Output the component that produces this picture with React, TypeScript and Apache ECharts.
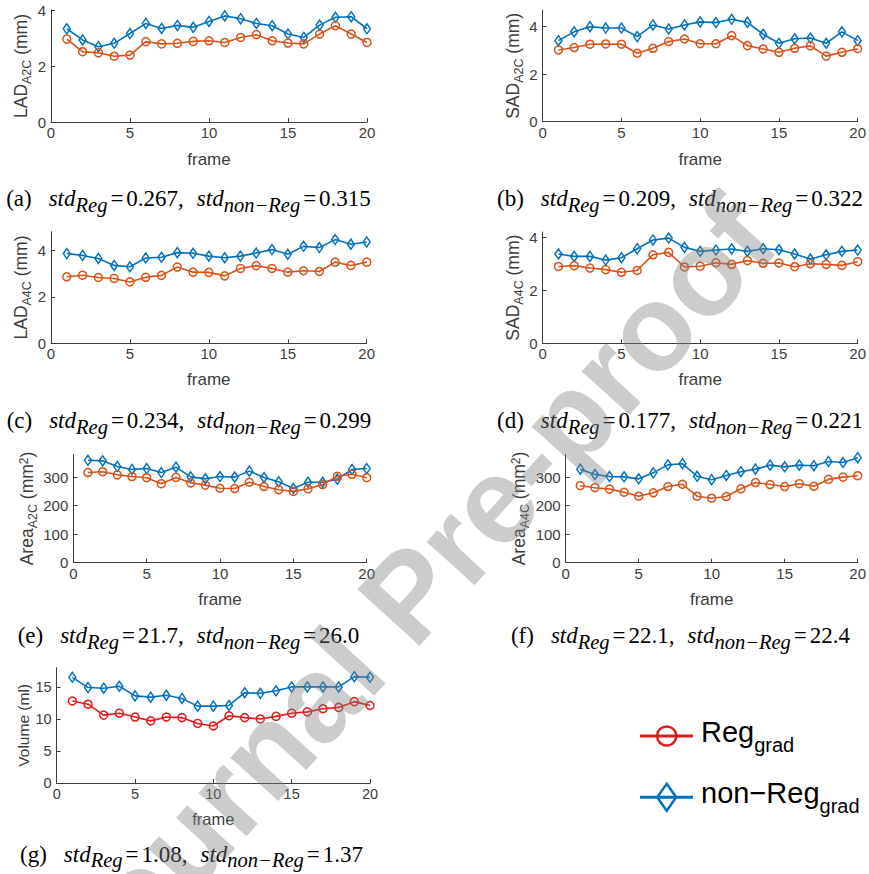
import React, { useEffect, useRef } from 'react';
import * as echarts from 'echarts';

// ---------------- data ----------------
const frames = [1, 2, 3, 4, 5, 6, 7, 8, 9, 10, 11, 12, 13, 14, 15, 16, 17, 18, 19, 20];

const ladA2CReg = [2.96, 2.51, 2.47, 2.35, 2.39, 2.87, 2.79, 2.81, 2.88, 2.9, 2.84, 3.02, 3.12, 2.9, 2.82, 2.79, 3.14, 3.44, 3.14, 2.84];
const ladA2CNon = [3.33, 2.93, 2.69, 2.81, 3.16, 3.52, 3.34, 3.45, 3.38, 3.59, 3.79, 3.69, 3.52, 3.44, 3.14, 3.02, 3.46, 3.74, 3.76, 3.33];

const sadA2CReg = [3.02, 3.12, 3.26, 3.27, 3.26, 2.88, 3.09, 3.37, 3.48, 3.28, 3.28, 3.62, 3.2, 3.06, 2.92, 3.09, 3.19, 2.76, 2.92, 3.07];
const sadA2CNon = [3.41, 3.78, 4.0, 3.94, 3.94, 3.58, 4.07, 3.9, 4.07, 4.2, 4.17, 4.31, 4.18, 3.68, 3.3, 3.49, 3.52, 3.3, 3.78, 3.41];

const ladA4CReg = [2.86, 2.93, 2.83, 2.79, 2.64, 2.84, 2.92, 3.28, 3.06, 3.05, 2.9, 3.22, 3.34, 3.22, 3.06, 3.12, 3.09, 3.49, 3.35, 3.49];
const ladA4CNon = [3.86, 3.78, 3.65, 3.35, 3.29, 3.67, 3.7, 3.9, 3.87, 3.75, 3.68, 3.75, 3.88, 4.03, 3.83, 4.17, 4.12, 4.46, 4.26, 4.36];

const sadA4CReg = [2.9, 2.93, 2.84, 2.78, 2.68, 2.75, 3.34, 3.43, 2.88, 2.91, 3.04, 2.98, 3.12, 3.02, 3.03, 2.89, 3.0, 2.98, 2.94, 3.08];
const sadA4CNon = [3.37, 3.28, 3.28, 3.14, 3.23, 3.57, 3.9, 3.97, 3.62, 3.47, 3.52, 3.56, 3.47, 3.57, 3.53, 3.37, 3.18, 3.34, 3.47, 3.52];

const areaA2CReg = [316, 319, 308, 302, 298, 277, 299, 280, 272, 261, 260, 282, 267, 256, 250, 259, 274, 303, 310, 298];
const areaA2CNon = [359, 357, 337, 327, 330, 316, 335, 301, 294, 302, 300, 321, 299, 284, 260, 282, 282, 293, 327, 330];

const areaA4CReg = [270, 263, 258, 247, 233, 245, 267, 275, 233, 226, 232, 259, 281, 274, 267, 277, 268, 292, 300, 305];
const areaA4CNon = [328, 309, 302, 301, 294, 315, 343, 347, 303, 291, 306, 319, 328, 342, 336, 342, 340, 355, 351, 368];

const volumeReg = [12.8, 12.3, 10.6, 10.9, 10.3, 9.7, 10.3, 10.2, 9.3, 8.9, 10.5, 10.2, 10.0, 10.4, 10.9, 11.1, 11.6, 11.8, 12.7, 12.1];
const volumeNon = [16.5, 14.9, 14.8, 15.1, 13.6, 13.4, 13.7, 13.2, 12.0, 12.0, 12.1, 14.1, 14.0, 14.4, 15.0, 15.0, 15.0, 15.0, 16.6, 16.5];

const panelLetters = ['a', 'b', 'c', 'd', 'e', 'f', 'g'];
const stdReg = ['0.267', '0.209', '0.234', '0.177', '21.7', '22.1', '1.08'];
const stdNonReg = ['0.315', '0.322', '0.299', '0.221', '26.0', '22.4', '1.37'];

const yNameRich = [
  '{m|LAD}{s|A2C}{m| (mm)}',
  '{m|SAD}{s|A2C}{m| (mm)}',
  '{m|LAD}{s|A4C}{m| (mm)}',
  '{m|SAD}{s|A4C}{m| (mm)}',
  '{m|Area}{s|A2C}{m| (mm}{p|2}{m|)}',
  '{m|Area}{s|A4C}{m| (mm}{p|2}{m|)}',
  '{g|Volume (ml)}',
];
const xName = 'frame';
const legendNames = ['Reg', 'non\u2212Reg'];
const legendSub = 'grad';
const watermark = 'Journal Pre-proof';

const regSeries = [ladA2CReg, sadA2CReg, ladA4CReg, sadA4CReg, areaA2CReg, areaA4CReg, volumeReg];
const nonSeries = [ladA2CNon, sadA2CNon, ladA4CNon, sadA4CNon, areaA2CNon, areaA4CNon, volumeNon];

// ---------------- layout / style ----------------
const SANS = '"Liberation Sans", Arial, Helvetica, sans-serif';
const SERIF = '"Liberation Serif", "Times New Roman", serif';
const AXIS = '#3c3c3c';
const ORANGE = '#D95319';
const BLUE = '#0072BD';
const RED = '#E31A1C';

const panels = [
  { left: 51, top: 10, width: 316, height: 112, yMax: 4, step: 2, nameGap: 6, xGap: 29, tick: 15, xName: 17 },
  { left: 542.7, top: 10, width: 315, height: 111.7, yMax: 4.7, step: 2, nameGap: 8, xGap: 29, tick: 15, xName: 17 },
  { left: 51, top: 231.7, width: 315.7, height: 111.6, yMax: 4.8, step: 2, nameGap: 6, xGap: 28, tick: 15, xName: 17 },
  { left: 542.7, top: 232, width: 315, height: 111.3, yMax: 4.2, step: 2, nameGap: 8, xGap: 28, tick: 15, xName: 17 },
  { left: 73.3, top: 454.3, width: 293.4, height: 108.4, yMax: 380, step: 100, nameGap: 25, xGap: 28, tick: 15, xName: 17 },
  { left: 565.7, top: 454.3, width: 292, height: 108.4, yMax: 380, step: 100, nameGap: 24.5, xGap: 28, tick: 15, xName: 17 },
  { left: 56.7, top: 667.7, width: 313.3, height: 115.3, yMax: 18, step: 5, nameGap: 22, xGap: 27, tick: 14.5, xName: 16.5 },
];

const captionPos = [
  { x: 188.5, y: 187.2 },
  { x: 680, y: 187.2 },
  { x: 189, y: 409 },
  { x: 680, y: 409 },
  { x: 188.5, y: 624 },
  { x: 680.5, y: 624 },
  { x: 191.5, y: 842.5 },
];

function buildOption() {
  const grid: any[] = [];
  const xAxis: any[] = [];
  const yAxis: any[] = [];
  const series: any[] = [];

  panels.forEach((p, i) => {
    grid.push({ left: p.left, top: p.top, width: p.width, height: p.height, containLabel: false });
    xAxis.push({
      type: 'value',
      gridIndex: i,
      min: 0,
      max: 20,
      interval: 5,
      name: xName,
      nameLocation: 'middle',
      nameGap: p.xGap,
      nameTextStyle: { fontFamily: SANS, fontSize: p.xName, color: AXIS },
      axisLine: { show: true, onZero: false, lineStyle: { color: AXIS, width: 1 } },
      axisTick: { show: true, inside: true, length: 4, lineStyle: { color: AXIS, width: 1 } },
      axisLabel: { fontFamily: SANS, fontSize: p.tick, color: AXIS, margin: 3 },
      splitLine: { show: false },
    });
    const step = p.step;
    const ticks: number[] = [];
    for (let k = 0; k * step <= p.yMax + 1e-9; k++) ticks.push(k * step);
    yAxis.push({
      type: 'value',
      gridIndex: i,
      min: 0,
      max: p.yMax,
      interval: step,
      name: yNameRich[i],
      nameLocation: 'middle',
      nameRotate: 90,
      nameGap: p.nameGap,
      nameTextStyle: {
        color: AXIS,
        fontFamily: SANS,
        rich: {
          m: { fontFamily: SANS, fontSize: 17.5, color: AXIS, lineHeight: 20, verticalAlign: 'top' },
          s: { fontFamily: SANS, fontSize: 12.5, color: AXIS, lineHeight: 21.5, verticalAlign: 'bottom' },
          p: { fontFamily: SANS, fontSize: 12, color: AXIS, lineHeight: 10, verticalAlign: 'top' },
          g: { fontFamily: SANS, fontSize: 15.5, color: AXIS, lineHeight: 17 },
        },
      },
      axisLine: { show: true, onZero: false, lineStyle: { color: AXIS, width: 1 } },
      axisTick: { show: true, inside: true, length: 4, customValues: ticks, lineStyle: { color: AXIS, width: 1 } },
      axisLabel: {
        fontFamily: SANS,
        fontSize: p.tick,
        color: AXIS,
        margin: 5,
        formatter: (v: number) => (Math.abs(v / step - Math.round(v / step)) < 1e-6 ? String(Math.round(v)) : ''),
      },
      splitLine: { show: false },
    });

    const regColor = i === 6 ? RED : ORANGE;
    series.push({
      type: 'line',
      name: i === 6 ? legendNames[0] : legendNames[0] + ' ' + panelLetters[i],
      xAxisIndex: i,
      yAxisIndex: i,
      data: frames.map((f, k) => [f, regSeries[i][k]]),
      symbol: 'circle',
      symbolSize: 8,
      showSymbol: true,
      lineStyle: { color: regColor, width: 1.6 },
      itemStyle: { color: 'rgba(0,0,0,0)', borderColor: regColor, borderWidth: 1.5 },
      z: 3,
    });
    series.push({
      type: 'line',
      name: i === 6 ? legendNames[1] : legendNames[1] + ' ' + panelLetters[i],
      xAxisIndex: i,
      yAxisIndex: i,
      data: frames.map((f, k) => [f, nonSeries[i][k]]),
      symbol: 'diamond',
      symbolSize: [7, 10],
      showSymbol: true,
      lineStyle: { color: BLUE, width: 1.6 },
      itemStyle: { color: 'rgba(0,0,0,0)', borderColor: BLUE, borderWidth: 1.5 },
      z: 2,
    });
  });

  const capRich = {
    r: { fontFamily: SERIF, fontSize: 23, color: '#111', lineHeight: 24, verticalAlign: 'top' },
    i: { fontFamily: SERIF, fontSize: 23, fontStyle: 'italic', color: '#111', lineHeight: 24, verticalAlign: 'top' },
    e: { fontFamily: SERIF, fontSize: 23, color: '#111', lineHeight: 24, verticalAlign: 'top', padding: [0, 3, 0, 3] },
    s: { fontFamily: SERIF, fontSize: 20.5, fontStyle: 'italic', color: '#111', lineHeight: 27.6, verticalAlign: 'bottom' },
    g1: { fontFamily: SERIF, fontSize: 23, lineHeight: 24, verticalAlign: 'top', width: 17 },
    g2: { fontFamily: SERIF, fontSize: 23, lineHeight: 24, verticalAlign: 'top', width: 13 },
  };

  const graphic: any[] = [];
  panelLetters.forEach((l, i) => {
    graphic.push({
      type: 'text',
      x: captionPos[i].x,
      y: captionPos[i].y,
      z: 10,
      style: {
        text: `{r|(${l})}{g1| }{i|std}{s|Reg}{e|=}{r|${stdReg[i]},}{g2| }{i|std}{s|non\u2212Reg}{e|=}{r|${stdNonReg[i]}}`,
        rich: capRich,
        textAlign: 'center',
        textVerticalAlign: 'top',
      },
    });
  });

  // legend (drawn as graphic)
  const legRich = {
    m: { fontFamily: SANS, fontSize: 29, color: '#222', lineHeight: 30, verticalAlign: 'top' },
    s: { fontFamily: SANS, fontSize: 20, color: '#222', lineHeight: 37.7, verticalAlign: 'bottom' },
  };
  const legRows = [
    { y: 736, color: RED, name: legendNames[0] },
    { y: 797.3, color: BLUE, name: legendNames[1] },
  ];
  legRows.forEach((r, k) => {
    graphic.push({ type: 'line', z: 10, shape: { x1: 640, y1: r.y, x2: 693, y2: r.y }, style: { stroke: r.color, lineWidth: 3 } });
    if (k === 0) {
      graphic.push({ type: 'circle', z: 11, shape: { cx: 666.7, cy: r.y, r: 9.5 }, style: { stroke: r.color, lineWidth: 2.5, fill: 'none' } });
    } else {
      graphic.push({
        type: 'polygon', z: 11,
        shape: { points: [[666.7, r.y - 13.5], [676.2, r.y], [666.7, r.y + 13.5], [657.2, r.y]] },
        style: { stroke: r.color, lineWidth: 2.5, fill: 'none' },
      });
    }
    graphic.push({
      type: 'text', z: 11, x: 701, y: r.y - 19,
      style: { text: `{m|${r.name}}{s|${legendSub}}`, rich: legRich, textAlign: 'left', textVerticalAlign: 'top' },
    });
  });

  // watermark
  graphic.push({
    type: 'text',
    z: 100,
    x: 408,
    y: 596,
    rotation: (47.7 * Math.PI) / 180,
    silent: true,
    style: {
      text: watermark,
      font: `bold 122px ${SANS}`,
      fill: 'rgba(128,128,128,0.40)',
      textAlign: 'center',
      textVerticalAlign: 'middle',
    },
  });

  return { animation: false, backgroundColor: '#fff', grid, xAxis, yAxis, series, graphic };
}

export default function App() {
  const ref = useRef<HTMLDivElement>(null);
  useEffect(() => {
    document.body.style.margin = '0';
    const chart = echarts.init(ref.current as HTMLDivElement, null, { renderer: 'svg' });
    chart.setOption(buildOption() as any);
    return () => chart.dispose();
  }, []);
  return <div ref={ref} style={{ width: 869, height: 874 }} />;
}
